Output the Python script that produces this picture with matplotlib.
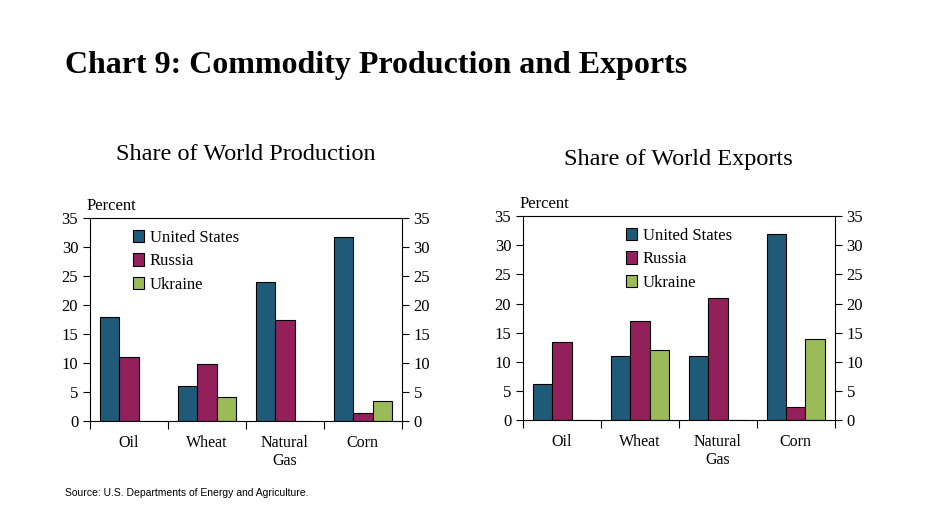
import matplotlib.pyplot as plt
import numpy as np

plt.rcParams['figure.facecolor'] = 'white'
plt.rcParams['axes.facecolor'] = 'white'
plt.rcParams['font.family'] = ['Liberation Serif', 'DejaVu Serif']

categories = ['Oil', 'Wheat', 'Natural\nGas', 'Corn']
countries = ['United States', 'Russia', 'Ukraine']
colors = ['#1f5b78', '#93205a', '#9bbb59']

# Share of world production (percent)
prod_us = [18.0, 6.0, 24.0, 31.8]
prod_russia = [11.1, 9.8, 17.5, 1.3]
prod_ukraine = [0.0, 4.1, 0.0, 3.5]

# Share of world exports (percent)
exp_us = [6.1, 11.0, 11.0, 31.9]
exp_russia = [13.4, 17.0, 21.0, 2.3]
exp_ukraine = [0.0, 12.0, 0.0, 13.9]


def draw_panel(ax, series, title, legend_loc, title_pad):
    x = np.arange(len(categories))
    w = 0.25
    for i, (vals, name, col) in enumerate(zip(series, countries, colors)):
        ax.bar(x + (i - 1) * w, vals, w, color=col, edgecolor='black',
               linewidth=0.8, label=name)
    ax.set_xlim(-0.5, len(categories) - 0.5)
    ax.set_ylim(0, 35)
    ax.set_yticks(range(0, 36, 5))
    ax.set_xticks(np.arange(len(categories) + 1) - 0.5)
    ax.set_xticklabels([])
    ax.set_xticks(x, minor=True)
    ax.set_xticklabels(categories, minor=True, fontsize=11.5)
    ax.tick_params(axis='x', which='minor', length=0, pad=10)
    ax.tick_params(axis='x', which='major', direction='out', length=6)
    ax.tick_params(axis='y', direction='out', length=5, labelsize=12,
                   left=True, right=True, labelleft=True, labelright=True)
    for s in ax.spines.values():
        s.set_linewidth(0.8)
    ax.text(-0.01, 1.02, 'Percent', transform=ax.transAxes, fontsize=12,
            ha='left', va='bottom')
    ax.set_title(title, fontsize=17.5, pad=title_pad)
    ax.legend(loc=legend_loc, frameon=False, fontsize=12, handlelength=0.65,
              handleheight=0.75, handletextpad=0.35, labelspacing=0.45,
              borderaxespad=0.3)


fig = plt.figure(figsize=(9.25, 5.2), dpi=100)
ax1 = fig.add_axes([0.0973, 0.1904, 0.337, 0.390])
ax2 = fig.add_axes([0.5654, 0.1923, 0.337, 0.392])

draw_panel(ax1, [prod_us, prod_russia, prod_ukraine],
           'Share of World Production', 'upper left', 42)
draw_panel(ax2, [exp_us, exp_russia, exp_ukraine],
           'Share of World Exports', 'upper center', 37)
ax1.get_legend().set_bbox_to_anchor((0.1, 1.0))
ax2.get_legend().set_bbox_to_anchor((0.5, 1.0))

fig.text(0.07, 0.875, 'Chart 9: Commodity Production and Exports',
         fontsize=23, fontweight='bold', ha='left', va='center')
fig.text(0.07, 0.052, 'Source: U.S. Departments of Energy and Agriculture.',
         fontsize=7.5, family='Liberation Sans', ha='left', va='center')

fig.savefig('out.png', dpi=100)
